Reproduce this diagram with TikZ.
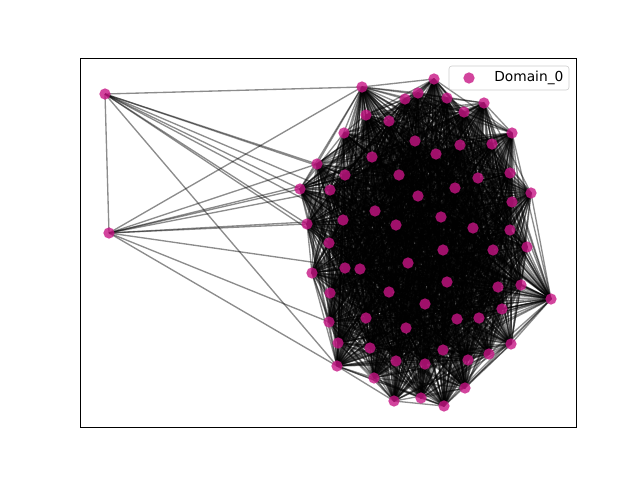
\documentclass[tikz,border=0pt]{standalone}
\usepackage{fontspec}
\setmainfont{DejaVu Sans}
\definecolor{domain}{RGB}{199,21,133}
\pgfdeclarelayer{bg}
\pgfsetlayers{bg,main}
\tikzset{
  dot/.style={circle, fill=domain, fill opacity=0.8, draw=none, inner sep=0pt, minimum size=8pt},
  link/.style={black, opacity=0.45, line width=0.95pt},
}

\begin{document}
\begin{tikzpicture}[x=0.025cm, y=-0.025cm]
    \useasboundingbox (0,0) rectangle (640,480);
    % die beiden Aussenseiter:
    \node[dot] (o1) at (105,94) {};
    \node[dot] (o2) at (109,233) {};
    % der dichte Haufen:
    \foreach \name/\pos in {
        n1/{(362,87)}, n2/{(434,79)}, n3/{(418,93)}, n4/{(405,99)}, n5/{(447,98)},
        n6/{(484,103)}, n7/{(366,115)}, n8/{(389,121)}, n9/{(464,112)}, n10/{(344,133)},
        n11/{(415,141)}, n12/{(512,133)}, n13/{(492,144)}, n14/{(372,157)}, n15/{(436,154)},
        n16/{(460,145)}, n17/{(317,164)}, n18/{(345,175)}, n19/{(399,175)}, n20/{(478,178)},
        n21/{(510,173)}, n22/{(300,189)}, n23/{(330,190)}, n24/{(455,188)}, n25/{(418,196)},
        n26/{(531,193)}, n27/{(512,202)}, n28/{(375,211)}, n29/{(307,224)}, n30/{(343,220)},
        n31/{(441,217)}, n32/{(396,225)}, n33/{(473,228)}, n34/{(510,230)}, n35/{(329,243)},
        n36/{(443,250)}, n37/{(527,247)}, n38/{(493,250)}, n39/{(345,268)}, n40/{(360,269)},
        n41/{(408,263)}, n42/{(312,273)}, n43/{(447,282)}, n44/{(521,285)}, n45/{(498,287)},
        n46/{(330,293)}, n47/{(389,292)}, n48/{(425,304)}, n49/{(502,309)}, n50/{(551,299)},
        n51/{(329,322)}, n52/{(366,318)}, n53/{(457,319)}, n54/{(479,318)}, n55/{(406,328)},
        n56/{(511,344)}, n57/{(338,343)}, n58/{(370,348)}, n59/{(443,350)}, n60/{(489,354)},
        n61/{(396,361)}, n62/{(425,364)}, n63/{(468,360)}, n64/{(337,366)}, n65/{(374,378)},
        n66/{(465,388)}, n67/{(394,401)}, n68/{(421,398)}, n69/{(444,406)}}
        \node[dot] (\name) at \pos {};
    % Kanten liegen unter den Punkten:
    \begin{pgfonlayer}{bg}
        \pgfmathsetseed{42}
        \foreach \i in {1,...,68} {
            \pgfmathtruncatemacro{\k}{\i+1}
            \foreach \j in {\k,...,69} {
                \pgfmathsetmacro{\r}{rnd}
                \ifdim\r pt<0.8pt \draw[link] (n\i.center) -- (n\j.center); \fi
            }
        }
        \draw[link] (o1.center) -- (o2.center); % senkrechte Kante
        \foreach \t in {1,17,18,22,23,29,30,35,64}
            \draw[link] (o1.center) -- (n\t.center);
        \foreach \t in {1,17,18,22,23,29,30,40,51,64}
            \draw[link] (o2.center) -- (n\t.center);
    \end{pgfonlayer}
    % Rahmen:
    \draw[line width=0.7pt] (80,58) rectangle (576,427);
    % Legende:
    \draw[black!20, fill=white, fill opacity=0.8, rounded corners=2pt] (449,66) rectangle (569,90);
    \node[dot] (key) at (469,78) {};
    \node[anchor=west, inner sep=0pt, font=\fontsize{9.8}{12}\selectfont] (keytext) at (494,78) {Domain\_0};
\end{tikzpicture}
\end{document}
